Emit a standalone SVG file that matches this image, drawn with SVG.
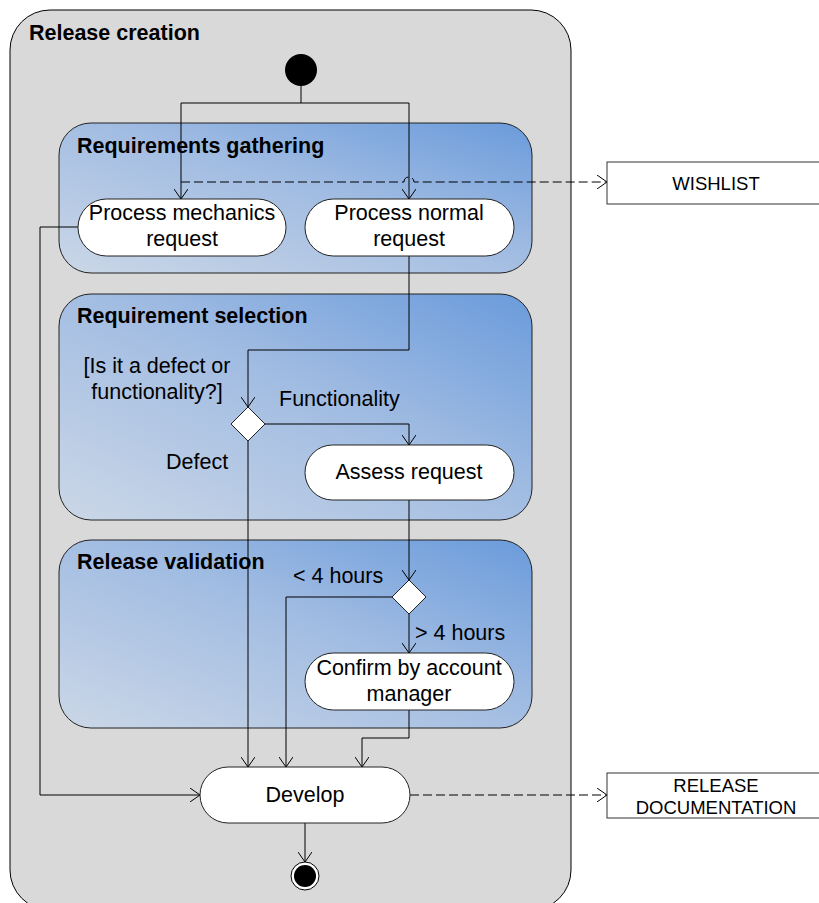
<svg xmlns="http://www.w3.org/2000/svg" width="819" height="903" viewBox="0 0 819 903">
  <style>
    .heading { font-family: "Liberation Sans", Arial, sans-serif; font-weight: bold; font-size: 21.5px; fill: #000; }
    .label { font-family: "Liberation Sans", Arial, sans-serif; font-size: 21.5px; fill: #000; }
    .boxlabel { font-family: "Liberation Sans", Arial, sans-serif; font-size: 18.5px; fill: #000; text-anchor: middle; }
    .mid { text-anchor: middle; }
    .partition { fill: url(#blueFill); stroke: #222; stroke-width: 1; }
    .action { fill: #fff; stroke: #222; stroke-width: 1; }
    .flow { fill: none; stroke: #000; stroke-width: 1; }
    .objflow { fill: none; stroke: #000; stroke-width: 1; stroke-dasharray: 9 4; }
    .object { fill: #fff; stroke: #333; stroke-width: 1; }
  </style>
  <defs>
    <linearGradient id="blueFill" x1="0" y1="1" x2="1" y2="0">
      <stop offset="0" stop-color="#cbd7e7"/>
      <stop offset="0.55" stop-color="#a1bce2"/>
      <stop offset="1" stop-color="#6a9bdb"/>
    </linearGradient>
    <marker id="open" viewBox="0 0 10 14" refX="10" refY="7" markerWidth="10" markerHeight="14" markerUnits="userSpaceOnUse" orient="auto">
      <path d="M0,0 L10,7 L0,14" fill="none" stroke="#000" stroke-width="1"/>
    </marker>
  </defs>

  <!-- Outer activity -->
  <g id="release-creation">
    <rect x="10" y="10" width="561" height="900" rx="40" ry="40" fill="#d9d9d9" stroke="#000" stroke-width="1"/>
    <text class="heading" x="29" y="40">Release creation</text>
  </g>

  <!-- Partitions -->
  <g id="requirements-gathering">
    <rect class="partition" x="59" y="123" width="473" height="150" rx="32" ry="32"/>
    <text class="heading" x="77" y="153">Requirements gathering</text>
  </g>
  <g id="requirement-selection">
    <rect class="partition" x="59" y="294" width="473" height="226" rx="32" ry="32"/>
    <text class="heading" x="77" y="323">Requirement selection</text>
  </g>
  <g id="release-validation">
    <rect class="partition" x="59" y="540" width="473" height="188" rx="32" ry="32"/>
    <text class="heading" x="77" y="569">Release validation</text>
  </g>

  <!-- Connectors -->
  <g id="connectors">
    <path class="flow" d="M301,86 V103 M181,103 H409"/>
    <path class="flow" d="M181,103 V199" marker-end="url(#open)"/>
    <path class="flow" d="M409,103 V199" marker-end="url(#open)"/>
    <path class="objflow" d="M181,182 H404 A5,5 0 0 1 414,182 H607" marker-end="url(#open)"/>
    <path class="flow" d="M78,227 H40 V795 H200" marker-end="url(#open)"/>
    <path class="flow" d="M409,256 V350 H248 V407" marker-end="url(#open)"/>
    <path class="flow" d="M265,424 H409 V445" marker-end="url(#open)"/>
    <path class="flow" d="M248,441 V767" marker-end="url(#open)"/>
    <path class="flow" d="M409,500 V580" marker-end="url(#open)"/>
    <path class="flow" d="M392,597 H286 V767" marker-end="url(#open)"/>
    <path class="flow" d="M409,614 V653" marker-end="url(#open)"/>
    <path class="flow" d="M409,710 V738 H362 V767" marker-end="url(#open)"/>
    <path class="objflow" d="M410,795 H607" marker-end="url(#open)"/>
    <path class="flow" d="M305,823 V862" marker-end="url(#open)"/>
  </g>

  <!-- Initial node -->
  <g id="start">
    <circle cx="301" cy="70" r="16" fill="#000"/>
  </g>

  <!-- Actions -->
  <g id="process-mechanics-request">
    <rect class="action" x="78" y="199" width="208" height="57" rx="28.5" ry="28.5"/>
    <text class="label mid" x="182" y="220">Process mechanics</text>
    <text class="label mid" x="182" y="246">request</text>
  </g>
  <g id="process-normal-request">
    <rect class="action" x="305" y="199" width="209" height="57" rx="28.5" ry="28.5"/>
    <text class="label mid" x="409" y="220">Process normal</text>
    <text class="label mid" x="409" y="246">request</text>
  </g>

  <g id="decision-type">
    <polygon class="action" points="248,407 265,424 248,441 231,424"/>
    <text class="label mid" x="157" y="373">[Is it a defect or</text>
    <text class="label mid" x="157" y="399">functionality?]</text>
    <text class="label" x="279" y="406">Functionality</text>
    <text class="label" x="166" y="469">Defect</text>
  </g>

  <g id="assess-request">
    <rect class="action" x="305" y="445" width="209" height="55" rx="27.5" ry="27.5"/>
    <text class="label mid" x="409" y="479">Assess request</text>
  </g>

  <g id="decision-hours">
    <polygon class="action" points="409,580 426,597 409,614 392,597"/>
    <text class="label" x="293" y="583">&lt; 4 hours</text>
    <text class="label" x="415" y="640">&gt; 4 hours</text>
  </g>

  <g id="confirm-by-account-manager">
    <rect class="action" x="305" y="653" width="209" height="57" rx="28.5" ry="28.5"/>
    <text class="label mid" x="409" y="675">Confirm by account</text>
    <text class="label mid" x="409" y="701">manager</text>
  </g>

  <g id="develop">
    <rect class="action" x="200" y="767" width="210" height="56" rx="28" ry="28"/>
    <text class="label mid" x="305" y="802">Develop</text>
  </g>

  <!-- Final node -->
  <g id="end">
    <circle cx="305" cy="876" r="14" fill="#fff" stroke="#000" stroke-width="1"/>
    <circle cx="305" cy="876" r="11" fill="#000"/>
  </g>

  <!-- Objects -->
  <g id="wishlist">
    <rect class="object" x="607" y="162" width="220" height="42"/>
    <text class="boxlabel" x="716" y="190">WISHLIST</text>
  </g>
  <g id="release-documentation">
    <rect class="object" x="607" y="773" width="220" height="45"/>
    <text class="boxlabel" x="716" y="792">RELEASE</text>
    <text class="boxlabel" x="716" y="814">DOCUMENTATION</text>
  </g>
</svg>
